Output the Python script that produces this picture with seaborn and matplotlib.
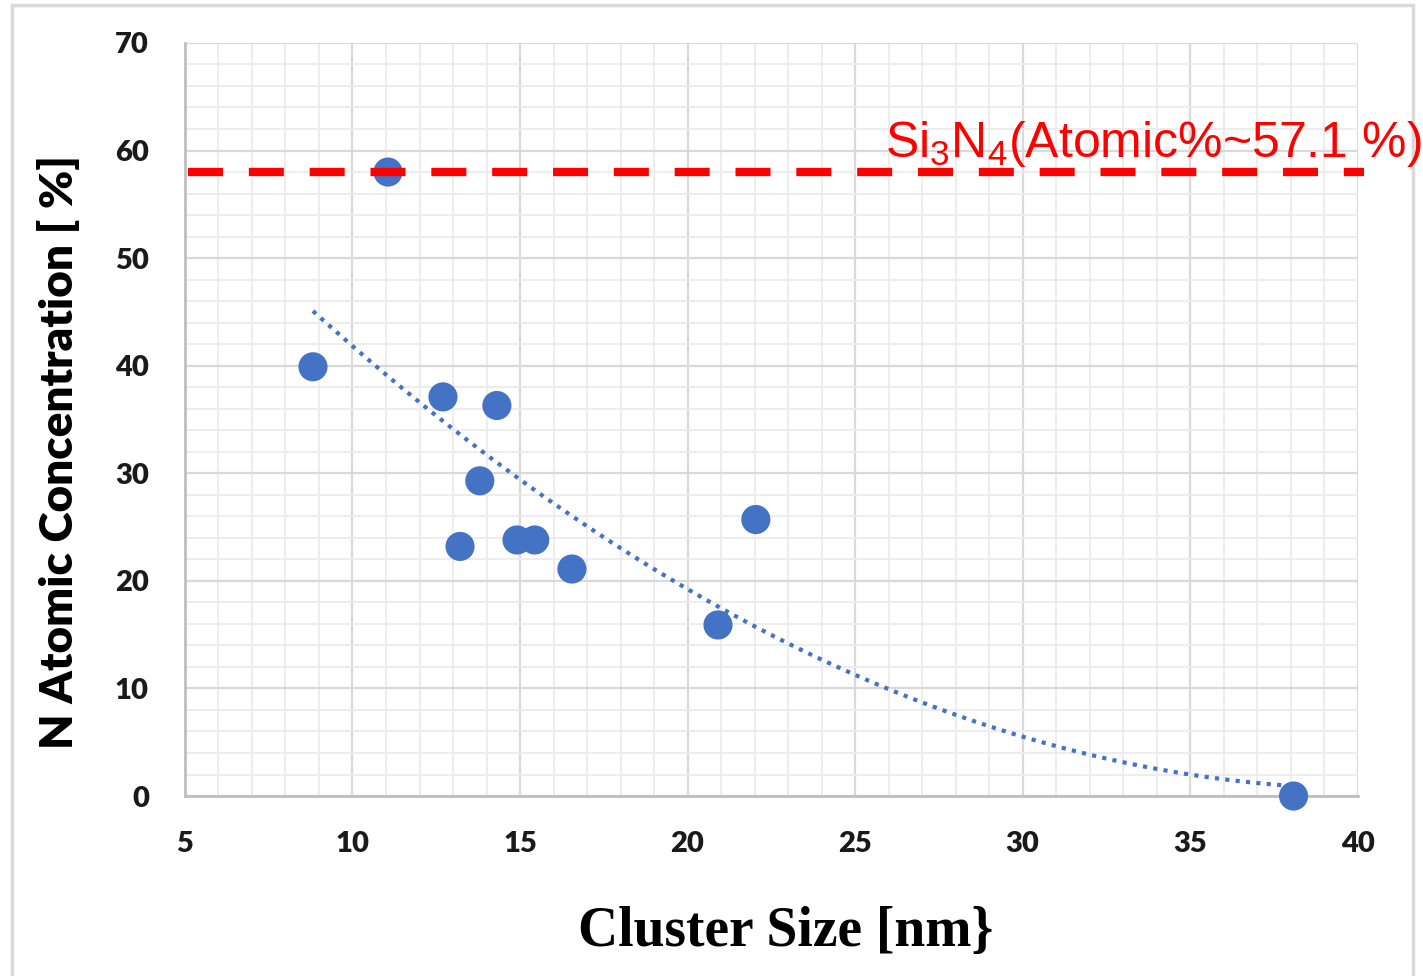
import numpy as np
import pandas as pd
import matplotlib
matplotlib.use("Agg")
import matplotlib.pyplot as plt
import seaborn as sns
from matplotlib.ticker import MultipleLocator
from matplotlib.patches import Rectangle

# ---- data ----
cluster_size = [8.82, 11.06, 12.70, 13.21, 13.80, 14.31, 14.91, 15.44, 16.55, 20.91, 22.04, 38.09]
n_conc = [39.9, 58.0, 37.1, 23.2, 29.3, 36.3, 23.8, 23.8, 21.1, 15.9, 25.7, 0.0]
si3n4_level = 58.0
si3n4_label = "Si$_3$N$_4$(Atomic%~57.1 %)"
x_ticks = [5, 10, 15, 20, 25, 30, 35, 40]
y_ticks = [0, 10, 20, 30, 40, 50, 60, 70]

df = pd.DataFrame({"size": cluster_size, "conc": n_conc})

sns.set_style("white")
plt.rcParams["font.family"] = ["Lato", "DejaVu Sans"]
plt.rcParams["mathtext.fontset"] = "custom"
plt.rcParams["mathtext.rm"] = "Liberation Sans"
plt.rcParams["mathtext.it"] = "Liberation Sans:italic"
plt.rcParams["mathtext.bf"] = "Liberation Sans:bold"

fig = plt.figure(figsize=(14.23, 9.76), dpi=100)
ax = fig.add_axes([0.130, 0.1844, 0.824, 0.7716])

# figure border
fig.patches.append(Rectangle((12 / 1423, -0.01), (1413 - 12) / 1423, 1 - 5 / 976 + 0.01,
                             transform=fig.transFigure, fill=False,
                             edgecolor="#d9d9d9", linewidth=2.5, zorder=-1))

blue = "#4472C4"

# trend line (2nd order polynomial fit, like Excel trendline)
sns.regplot(data=df, x="size", y="conc", order=2, ci=None, scatter=False, ax=ax,
            truncate=True,
            line_kws=dict(color=blue, linewidth=3.0, linestyle=(0, (1, 1.5)),
                          dash_capstyle="butt", zorder=3))

sns.scatterplot(data=df, x="size", y="conc", ax=ax, color=blue, s=440,
                edgecolor="none", zorder=4, legend=False, clip_on=False)

# Si3N4 reference line
ax.plot([5.1, 40.2], [si3n4_level, si3n4_level], color="#FF0000", linewidth=6,
        dashes=(4.2, 3.1), zorder=5, clip_on=False)
ax.text(25.9, 59.4, si3n4_label, color="#FF0000", fontsize=36,
        fontfamily="Liberation Sans", ha="left", va="baseline", clip_on=False, zorder=6)

ax.set_xlim(5, 40)
ax.set_ylim(0, 70)
ax.set_xticks(x_ticks)
ax.set_yticks(y_ticks)
ax.xaxis.set_minor_locator(MultipleLocator(1))
ax.yaxis.set_minor_locator(MultipleLocator(2))
ax.grid(True, which="major", color="#d9d9d9", linewidth=1.6, zorder=0)
ax.grid(True, which="minor", color="#ececec", linewidth=1.3, zorder=0)
ax.set_axisbelow(True)

for s in ["top", "right"]:
    ax.spines[s].set_visible(False)
for s in ["left", "bottom"]:
    ax.spines[s].set_color("#bfbfbf")
    ax.spines[s].set_linewidth(2)

ax.tick_params(axis="both", which="major", direction="out", length=9, width=2,
               color="#bfbfbf", labelsize=21, labelcolor="#1a1a1a")
ax.tick_params(axis="y", which="major", pad=17)
ax.tick_params(axis="x", which="major", pad=16)
ax.tick_params(which="minor", length=0)
for lab in ax.get_xticklabels() + ax.get_yticklabels():
    lab.set_fontweight("heavy")

ax.set_xlabel("Cluster Size [nm}", fontsize=40, fontweight="bold",
              fontfamily="Liberation Serif", color="black")
ax.set_ylabel("N Atomic Concentration [ %]", fontsize=33, fontweight="heavy",
              color="black")
# label positions in axes fraction
ax.xaxis.set_label_coords((786 - 185) / (1358 - 185), -(932 - 796) / (796 - 43))
ax.yaxis.set_label_coords(-(185 - 58) / (1358 - 185), (796 - 452) / (796 - 43))
ax.xaxis.label.set_va("center")
ax.yaxis.label.set_va("center")

fig.savefig("out.png", dpi=100)
